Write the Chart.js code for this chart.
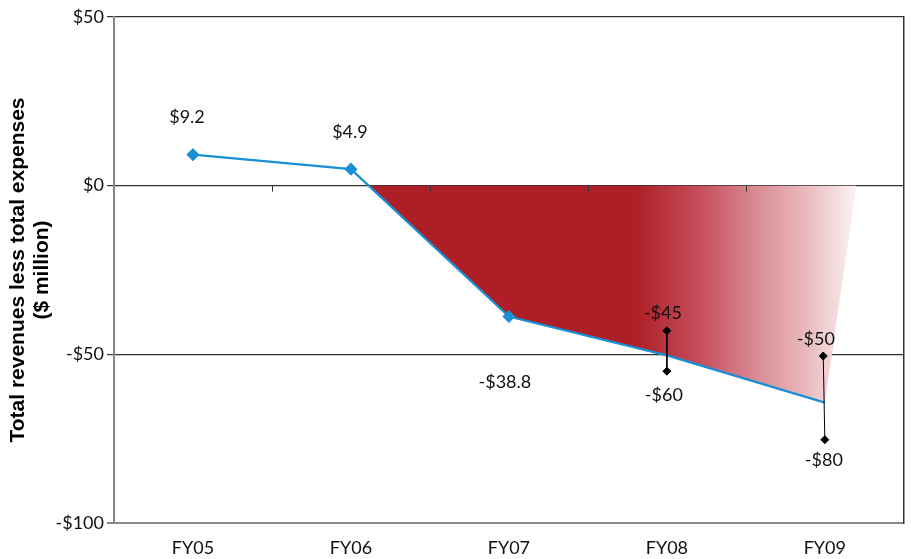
<!DOCTYPE html>
<html>
<head>
<meta charset="utf-8">
<script src="https://cdn.jsdelivr.net/npm/chart.js@4/dist/chart.umd.min.js"></script>
<style>
  html, body { margin: 0; padding: 0; background: #fff; }
  #wrap { width: 911px; height: 559px; }
</style>
</head>
<body>
<div id="wrap"><canvas id="c" width="911" height="559"></canvas></div>
<script>
// data
const years = ["FY05", "FY06", "FY07", "FY08", "FY09"];
const netValues = [9.2, 4.9, -38.8, -50.3, -64.3];
const netLabels = ["$9.2", "$4.9", "-$38.8", null, null];

// shaded deficit area (goes back up to zero a little past FY09)
const shadeX = [1.11, 2, 3, 4, 4.2];
const shadeY = [0, -38.8, -50.3, -64.3, 0];

// projected ranges
const rangeFY08 = [-43, -55];
const rangeFY08Labels = ["-$45", "-$60"];
const rangeFY09 = [-50.5, -75.3];
const rangeFY09Labels = ["-$50", "-$80"];

const yTicks = [50, 0, -50, -100];

const FONT = "Lato, 'Open Sans', sans-serif";

function pts(xs, ys) {
  return ys.map((y, i) => ({ x: xs[i], y: y }));
}

const labelPlugin = {
  id: "labels",
  afterDatasetsDraw(chart) {
    const ctx = chart.ctx;
    const xs = chart.scales.x, ys = chart.scales.y;
    // small ticks on the zero line between categories
    ctx.save();
    ctx.strokeStyle = "#333";
    ctx.lineWidth = 1;
    for (let i = 0; i < years.length - 1; i++) {
      const px = Math.round(xs.getPixelForValue(i + 0.5)) + 0.5;
      const py = ys.getPixelForValue(0);
      ctx.beginPath();
      ctx.moveTo(px, py);
      ctx.lineTo(px, py + 6);
      ctx.stroke();
    }
    ctx.restore();

    ctx.save();
    ctx.font = "18px " + FONT;
    ctx.fillStyle = "#111";
    ctx.textAlign = "center";
    ctx.textBaseline = "middle";
    const netOff = [[-6, -37], [-1, -37], [-4, 66]];
    netLabels.forEach((t, i) => {
      if (!t) return;
      ctx.fillText(t, xs.getPixelForValue(i) + netOff[i][0], ys.getPixelForValue(netValues[i]) + netOff[i][1]);
    });
    const x8 = xs.getPixelForValue(3);
    ctx.fillText(rangeFY08Labels[0], x8 - 4, ys.getPixelForValue(rangeFY08[0]) - 18);
    ctx.fillText(rangeFY08Labels[1], x8 - 3, ys.getPixelForValue(rangeFY08[1]) + 24);
    const x9 = xs.getPixelForValue(4);
    ctx.fillText(rangeFY09Labels[0], x9 - 9, ys.getPixelForValue(rangeFY09[0]) - 17);
    ctx.fillText(rangeFY09Labels[1], x9 - 1, ys.getPixelForValue(rangeFY09[1]) + 21);
    ctx.restore();
  }
};

const ctx = document.getElementById("c").getContext("2d");

const chart = new Chart(ctx, {
  type: "line",
  data: {
    datasets: [
      {
        label: "shade",
        data: pts(shadeX, shadeY),
        borderWidth: 0,
        pointRadius: 0,
        fill: "origin",
        order: 3,
        backgroundColor(c) {
          const ch = c.chart;
          if (!ch.chartArea) return "#ad1e25";
          const xs = ch.scales.x;
          const x0 = xs.getPixelForValue(2.8);
          const x1 = xs.getPixelForValue(4.2);
          const g = ch.ctx.createLinearGradient(x0, 0, x1, 0);
          g.addColorStop(0, "#ad1e26");
          g.addColorStop(0.3, "#c6505d");
          g.addColorStop(0.55, "#da8c94");
          g.addColorStop(0.78, "#e9bbbf");
          g.addColorStop(1, "#fcf3f4");
          return g;
        }
      },
      {
        label: "net",
        data: pts([0, 1, 2, 3, 4], netValues),
        borderColor: "#1a8fd3",
        backgroundColor: "#1a8fd3",
        borderWidth: 2.2,
        pointStyle: "rectRot",
        pointRadius: [5, 5, 5, 0, 0],
        fill: false,
        order: 1
      },
      {
        label: "r08",
        data: pts([3, 3], rangeFY08),
        borderColor: "#000",
        backgroundColor: "#000",
        borderWidth: 1,
        pointStyle: "rectRot",
        pointRadius: 4,
        fill: false,
        order: 0
      },
      {
        label: "r09",
        data: pts([3.99, 4.0], rangeFY09),
        borderColor: "#000",
        backgroundColor: "#000",
        borderWidth: 1,
        pointStyle: "rectRot",
        pointRadius: 4,
        fill: false,
        order: 0
      }
    ]
  },
  options: {
    responsive: false,
    animation: false,
    layout: { padding: { top: 17, right: 0, left: 0, bottom: 0 } },
    plugins: {
      legend: { display: false },
      tooltip: { enabled: false }
    },
    scales: {
      x: {
        type: "linear",
        min: -0.5,
        max: 4.5,
        afterBuildTicks(s) {
          s.ticks = years.map((y, i) => ({ value: i }));
        },
        afterFit(s) { s.height = 36; },
        grid: { display: false, drawTicks: false },
        border: { color: "#888", width: 2 },
        ticks: {
          padding: 14,
          color: "#111",
          font: { family: FONT, size: 18 },
          callback: (v) => years[v] || ""
        }
      },
      y: {
        min: -100,
        max: 50,
        afterBuildTicks(s) {
          s.ticks = yTicks.map(v => ({ value: v }));
        },
        afterFit(s) { s.width = 114; },
        border: { color: "#888", width: 2 },
        grid: {
          color: (c) => c.tick && c.tick.value === -100 ? "#888" : "#333",
          lineWidth: (c) => c.tick && c.tick.value === -100 ? 2 : 1.2,
          tickLength: 7
        },
        ticks: {
          padding: 3,
          color: "#111",
          font: { family: FONT, size: 18 },
          callback: (v) => v < 0 ? "-$" + Math.abs(v) : "$" + v
        },
        title: {
          display: true,
          text: ["Total revenues less total expenses", "($ million)"],
          color: "#000",
          font: { family: "'Liberation Sans', Arial, sans-serif", size: 21, weight: "bold", lineHeight: 1.15 },
          padding: { top: 6, bottom: 0 }
        }
      },
      y2: {
        position: "right",
        display: true,
        min: -100,
        max: 50,
        afterFit(s) { s.width = 2; },
        grid: { display: false },
        ticks: { display: false },
        border: { color: "#333", width: 1.5 }
      }
    }
  },
  plugins: [labelPlugin]
});
</script>
</body>
</html>
